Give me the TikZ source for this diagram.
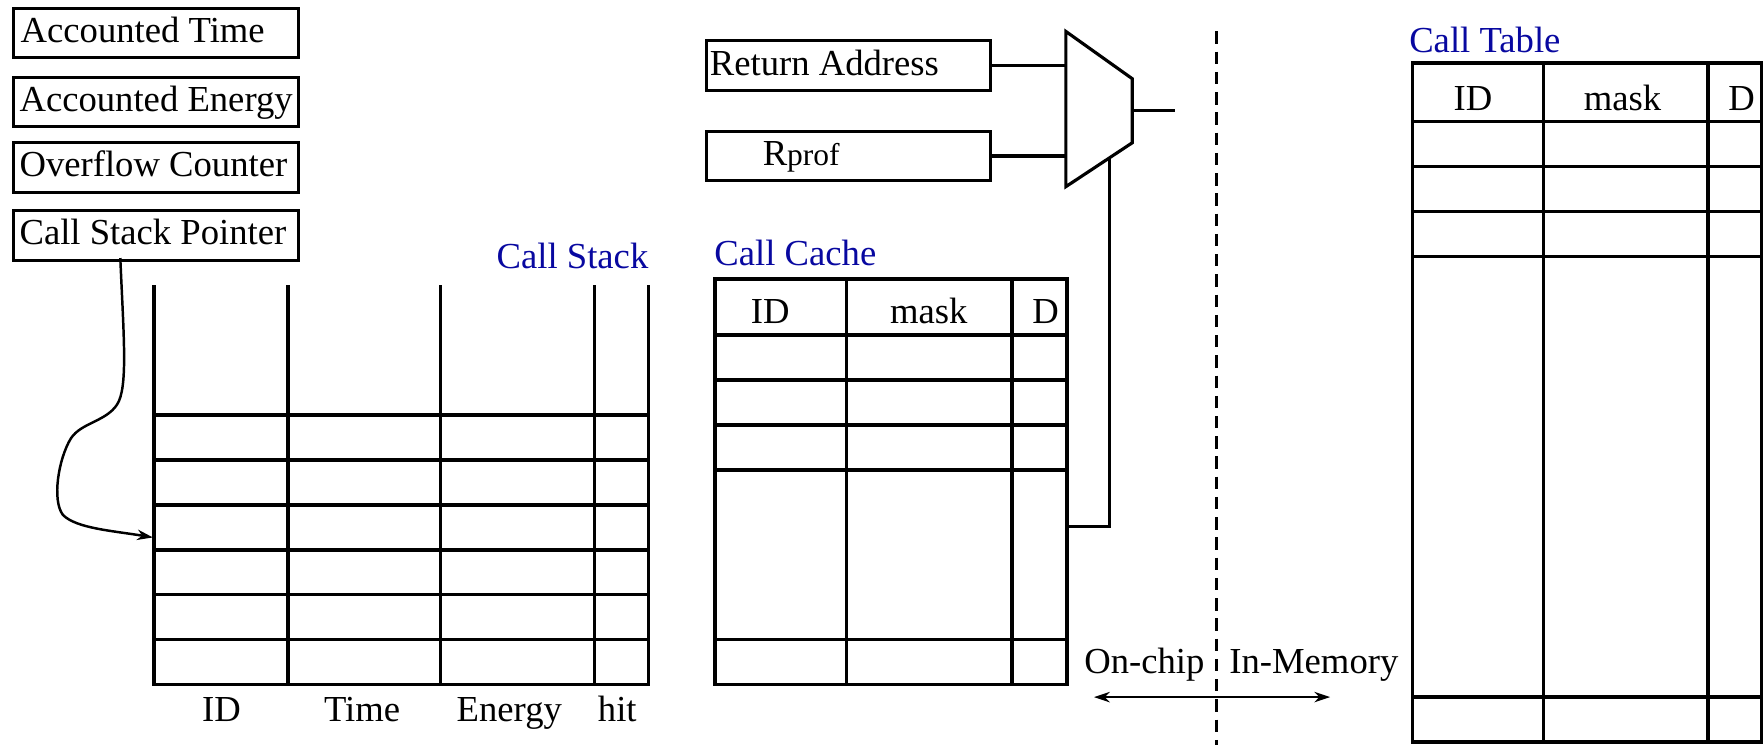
\documentclass[tikz,border=0pt]{standalone}
\usepackage{fontspec}
\setmainfont{Liberation Serif}
\usetikzlibrary{arrows.meta}
\definecolor{callblue}{RGB}{8,8,160}
\newcommand\figfont{\fontsize{16.3}{19}\selectfont}
\newcommand\subfont{\fontsize{14}{16}\selectfont}

\tikzset{
  regbox/.style={draw, line width=1.3pt, minimum width=126.5pt, minimum height=22pt,
                 inner sep=0pt, anchor=north west},
  boxtext/.style={anchor=base west, inner sep=0pt},
  celltext/.style={anchor=base, inner sep=0pt},
  tabtitle/.style={text=callblue, inner sep=0pt},
  grid/.style={line width=1.5pt, line cap=rect},
  wire/.style={line width=1.4pt},
}

\begin{document}
\begin{tikzpicture}[x=0.5pt, y=-0.5pt, font=\figfont,
    >={Stealth[length=7pt, width=4.6pt, inset=2.2pt]}]
\useasboundingbox (0,0) rectangle (1568,663);
\clip (0,0) rectangle (1568,663);

% ---- profiling registers ----
\node[regbox] (at)  at (11,6)     {};
\node[regbox] (ae)  at (11,67.5)  {};
\node[regbox] (oc)  at (11,125.5) {};
\node[regbox] (csp) at (11,186)   {};
\node[boxtext] (at-t)  at (18,37.5)   {Accounted Time};
\node[boxtext] (ae-t)  at (17,99)     {Accounted Energy};
\node[boxtext] (oc-t)  at (17,157)    {Overflow Counter};
\node[boxtext] (csp-t) at (17,217.5)  {Call Stack Pointer};

% ---- call stack ----
\node[tabtitle, anchor=base east] (cs-title) at (577,239) {Call Stack};
\foreach \x in {137,256,392,529,577}
  \draw[grid] (\x,255) -- (\x,609);
\foreach \y in {369,409,449,489,529,569,609}
  \draw[grid] (137,\y) -- (577,\y);
\node[celltext] (cs-id)  at (197,642) {ID};
\node[celltext] (cs-tm)  at (322,642) {Time};
\node[celltext] (cs-en)  at (453,642) {Energy};
\node[celltext] (cs-hit) at (549,642) {hit};

% stack pointer into the stack
\coordinate (ptr)  at (107,229.5);
\coordinate (slot) at (136,478);
\draw[line width=1.1pt, ->] (ptr)
  .. controls (110,300) and (114,345) .. (104,360)
  .. controls (94,375) and (72,376) .. (63,390)
  .. controls (52,408) and (46,445) .. (56,458)
  .. controls (68,470) and (100,472) .. (slot);

% ---- return address / Rprof multiplexer ----
\node[regbox] (ra) at (627,35)    {};
\node[regbox] (rp) at (627,115.5) {};
\node[boxtext] (ra-t) at (631,67)  {Return Address};
\node[boxtext] (rp-t) at (678,147) {R{\subfont prof}};

\coordinate (mux-tl) at (948,28);
\coordinate (mux-tr) at (1007,70);
\coordinate (mux-br) at (1007,127);
\coordinate (mux-bl) at (948,166);
\coordinate (mux-out) at (1007,98);
\coordinate (mux-sel) at (987,140.2);
\coordinate (out-end) at (1045,98);
\draw[wire, line join=miter] (mux-tl) -- (mux-tr) -- (mux-br) -- (mux-bl) -- cycle;
\draw[wire] (ra.east) -- (ra.east -| mux-tl);
\draw[wire] (rp.east) -- (rp.east -| mux-bl);
\draw[wire] (mux-out) -- (out-end);

% ---- call cache ----
\node[tabtitle, anchor=base west] (cc-title) at (635,236) {Call Cache};
\foreach \x in {636,753,900,949}
  \draw[grid] (\x,248) -- (\x,609);
\foreach \y in {248,298,338,378,418,569,609}
  \draw[grid] (636,\y) -- (949,\y);
\node[celltext] (cc-id) at (685,288) {ID};
\node[celltext] (cc-mk) at (826,288) {mask};
\node[celltext] (cc-d)  at (930,288) {D};

% select signal from the cache
\coordinate (cc-sel) at (949,468);
\draw[wire] (mux-sel) -- (mux-sel |- cc-sel) -- (cc-sel);

% ---- on-chip / in-memory boundary ----
\coordinate (div-top) at (1082,28);
\coordinate (div-bot) at (1082,663);
\draw[line width=1pt, dash pattern=on 5.5pt off 3.5pt] (div-top) -- (div-bot);
\node[boxtext] (onchip) at (964,599)  {On-chip};
\node[boxtext] (inmem)  at (1093,599) {In-Memory};
\coordinate (span-l) at (973,620);
\coordinate (span-r) at (1183,620);
\draw[line width=1.1pt, <->] (span-l) -- (span-r);

% ---- call table ----
\node[tabtitle, anchor=base west] (ct-title) at (1253,47) {Call Table};
\foreach \x in {1256,1373,1519,1567}
  \draw[grid] (\x,56) -- (\x,660);
\foreach \y in {56,108,148,188,228,620,660}
  \draw[grid] (1256,\y) -- (1567,\y);
\node[celltext] (ct-id) at (1310,98) {ID};
\node[celltext] (ct-mk) at (1443,98) {mask};
\node[celltext] (ct-d)  at (1549,98) {D};
\end{tikzpicture}
\end{document}
